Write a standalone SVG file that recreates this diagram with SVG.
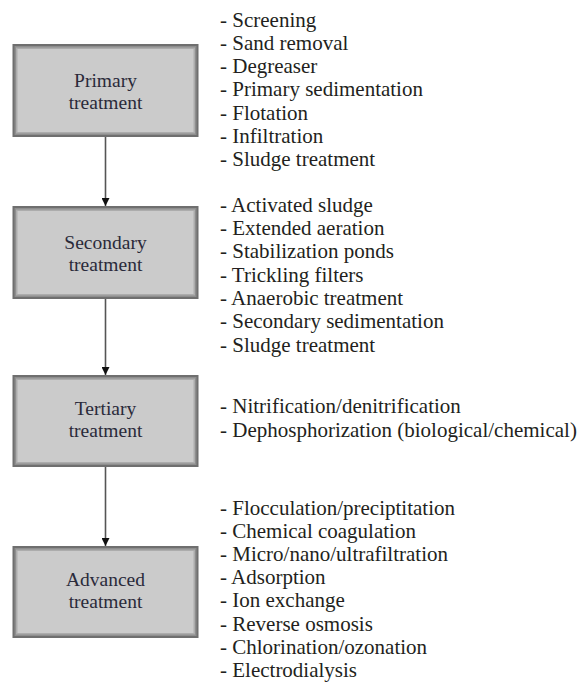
<svg xmlns="http://www.w3.org/2000/svg" width="587" height="686" viewBox="0 0 587 686">
<defs>
<style>
.bx0{fill:#6f6f6f}
.bx1{fill:#8e8e8e}
.bx2{fill:#acacac}
.bx3{fill:#cbcbcb}
.lbl{font-size:19.5px;fill:#2a2a3a;text-anchor:middle}
.li{font-size:21px;fill:#231f20}
.con{stroke:#555;stroke-width:1.6;fill:none}
</style>
<marker id="ah" viewBox="0 0 10 10" refX="10" refY="5" markerWidth="8" markerHeight="8" markerUnits="userSpaceOnUse" orient="auto">
<path d="M0,0 L10,5 L0,10 z" fill="#111"/>
</marker>
</defs>
<rect width="587" height="686" fill="#fff"/>
<g id="connectors">
<line class="con" x1="105.5" y1="137" x2="105.5" y2="206" marker-end="url(#ah)"/>
<line class="con" x1="105.5" y1="299" x2="105.5" y2="375" marker-end="url(#ah)"/>
<line class="con" x1="105.5" y1="467" x2="105.5" y2="546" marker-end="url(#ah)"/>
</g>
<g font-family="'Liberation Serif', 'Times New Roman', 'DejaVu Serif', serif">
<g id="primary">
<rect class="bx0" x="12.5" y="44" width="186" height="93"/>
<rect class="bx1" x="14.5" y="46" width="182" height="89"/>
<rect class="bx2" x="16" y="47.5" width="179" height="86"/>
<rect class="bx3" x="17.5" y="49" width="176" height="83"/>
<text class="lbl" x="105.5" y="87">Primary</text>
<text class="lbl" x="105.5" y="109">treatment</text>
</g>
<g id="secondary">
<rect class="bx0" x="12.5" y="206" width="186" height="93"/>
<rect class="bx1" x="14.5" y="208" width="182" height="89"/>
<rect class="bx2" x="16" y="209.5" width="179" height="86"/>
<rect class="bx3" x="17.5" y="211" width="176" height="83"/>
<text class="lbl" x="105.5" y="248.5">Secondary</text>
<text class="lbl" x="105.5" y="270.5">treatment</text>
</g>
<g id="tertiary">
<rect class="bx0" x="12.5" y="375" width="186" height="92"/>
<rect class="bx1" x="14.5" y="377" width="182" height="88"/>
<rect class="bx2" x="16" y="378.5" width="179" height="85"/>
<rect class="bx3" x="17.5" y="380" width="176" height="82"/>
<text class="lbl" x="105.5" y="415">Tertiary</text>
<text class="lbl" x="105.5" y="437">treatment</text>
</g>
<g id="advanced">
<rect class="bx0" x="12.5" y="546" width="186" height="92"/>
<rect class="bx1" x="14.5" y="548" width="182" height="88"/>
<rect class="bx2" x="16" y="549.5" width="179" height="85"/>
<rect class="bx3" x="17.5" y="551" width="176" height="82"/>
<text class="lbl" x="105.5" y="586">Advanced</text>
<text class="lbl" x="105.5" y="608">treatment</text>
</g>
<g id="primary-list">
<text class="li" x="220" y="26.5">- Screening</text>
<text class="li" x="220" y="49.8">- Sand removal</text>
<text class="li" x="220" y="73.1">- Degreaser</text>
<text class="li" x="220" y="96.4">- Primary sedimentation</text>
<text class="li" x="220" y="119.7">- Flotation</text>
<text class="li" x="220" y="143">- Infiltration</text>
<text class="li" x="220" y="166.3">- Sludge treatment</text>
</g>
<g id="secondary-list">
<text class="li" x="220" y="211.7">- Activated sludge</text>
<text class="li" x="220" y="235">- Extended aeration</text>
<text class="li" x="220" y="258.3">- Stabilization ponds</text>
<text class="li" x="220" y="281.6">- Trickling filters</text>
<text class="li" x="220" y="304.9">- Anaerobic treatment</text>
<text class="li" x="220" y="328.2">- Secondary sedimentation</text>
<text class="li" x="220" y="351.5">- Sludge treatment</text>
</g>
<g id="tertiary-list">
<text class="li" x="220" y="413.3">- Nitrification/denitrification</text>
<text class="li" x="220" y="436.6">- Dephosphorization (biological/chemical)</text>
</g>
<g id="advanced-list">
<text class="li" x="220" y="515">- Flocculation/preciptitation</text>
<text class="li" x="220" y="538.1">- Chemical coagulation</text>
<text class="li" x="220" y="561.2">- Micro/nano/ultrafiltration</text>
<text class="li" x="220" y="584.3">- Adsorption</text>
<text class="li" x="220" y="607.4">- Ion exchange</text>
<text class="li" x="220" y="630.5">- Reverse osmosis</text>
<text class="li" x="220" y="653.6">- Chlorination/ozonation</text>
<text class="li" x="220" y="676.7">- Electrodialysis</text>
</g>
</g>
</svg>
